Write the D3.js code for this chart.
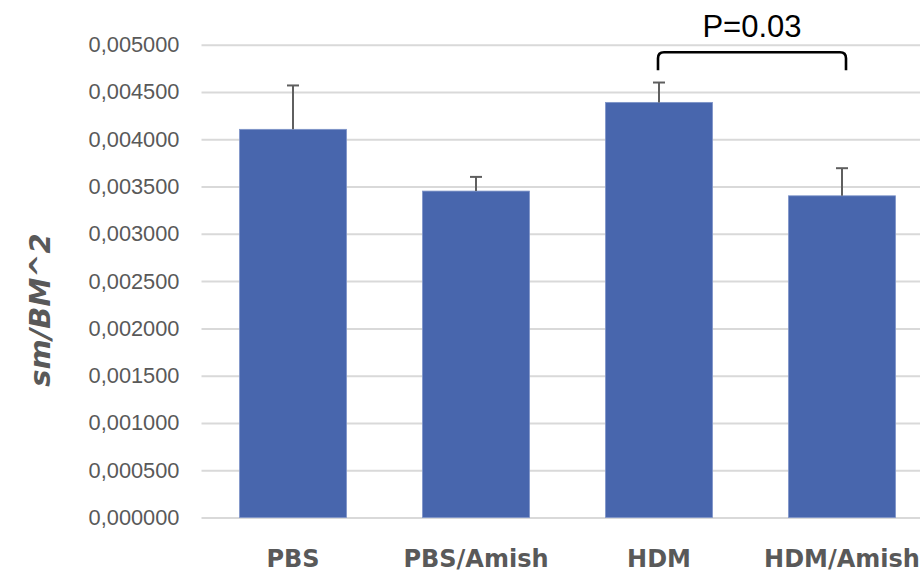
<!DOCTYPE html>
<html>
<head>
<meta charset="utf-8">
<script src="https://cdn.jsdelivr.net/npm/d3@7"></script>
<style>
  html, body { margin: 0; padding: 0; background: #fff; overflow: hidden; }
  svg { display: block; }
</style>
</head>
<body>
<svg id="chart" width="920" height="572"></svg>
<script>
// Groups, mean values and upper standard-error bars
const categories = ["PBS", "PBS/Amish", "HDM", "HDM/Amish"];
const means = [0.004105, 0.003452, 0.004390, 0.003402];
const errors = [0.000464, 0.000150, 0.000210, 0.000292];
const yTicks = [0, 0.0005, 0.001, 0.0015, 0.002, 0.0025, 0.003, 0.0035, 0.004, 0.0045, 0.005];
const yTickLabels = ["0,000000", "0,000500", "0,001000", "0,001500", "0,002000", "0,002500",
                     "0,003000", "0,003500", "0,004000", "0,004500", "0,005000"];
const axisTitle = "sm/BM^2";
// Significance bracket between HDM and HDM/Amish
const comparison = { from: "HDM", to: "HDM/Amish", label: "P=0.03", top: 0.00492, foot: 0.00473 };

const svg = d3.select("#chart");

const x = d3.scaleBand()
  .domain(categories)
  .range([201.5, 933.5])
  .paddingInner(0.415)
  .paddingOuter(0.2075);

const y = d3.scaleLinear()
  .domain([0, 0.005])
  .range([517.5, 44.7]);

// Horizontal gridlines
const yAxis = d3.axisLeft(y)
  .tickValues(yTicks)
  .tickSize(-(933.5 - 201.5))
  .tickPadding(22)
  .tickFormat((d, i) => yTickLabels[i]);

const gy = svg.append("g")
  .attr("transform", "translate(201.5,0)")
  .call(yAxis);
gy.select(".domain").remove();
gy.selectAll(".tick line")
  .attr("stroke", "#d9d9d9")
  .attr("stroke-width", 2);
gy.selectAll(".tick text")
  .attr("fill", "#595959")
  .attr("font-family", "'Liberation Sans', Arial, sans-serif")
  .attr("font-size", 21.8);

// Bars
svg.append("g")
  .selectAll("rect")
  .data(categories)
  .join("rect")
  .attr("x", d => x(d))
  .attr("width", x.bandwidth())
  .attr("y", (d, i) => y(means[i]))
  .attr("height", (d, i) => y(0) - y(means[i]))
  .attr("fill", "#4866ad")
  .attr("stroke", "#7f95c9")
  .attr("stroke-width", 0.8);

// Error bars (upper)
const eb = svg.append("g")
  .attr("stroke", "#5f5f5f")
  .attr("stroke-width", 2);
categories.forEach((c, i) => {
  const cx = x(c) + x.bandwidth() / 2;
  eb.append("line")
    .attr("x1", cx).attr("x2", cx)
    .attr("y1", y(means[i])).attr("y2", y(means[i] + errors[i]));
  eb.append("line")
    .attr("x1", cx - 6).attr("x2", cx + 6)
    .attr("y1", y(means[i] + errors[i])).attr("y2", y(means[i] + errors[i]));
});

// Category labels
svg.append("g")
  .selectAll("text")
  .data(categories)
  .join("text")
  .attr("x", d => x(d) + x.bandwidth() / 2)
  .attr("y", 567)
  .attr("text-anchor", "middle")
  .attr("fill", "#595959")
  .attr("font-family", "'DejaVu Sans', sans-serif")
  .attr("font-weight", "bold")
  .attr("font-size", 24)
  .text(d => d);

// Y-axis title
svg.append("text")
  .attr("transform", "translate(50,310) rotate(-90)")
  .attr("text-anchor", "middle")
  .attr("fill", "#595959")
  .attr("font-family", "'DejaVu Sans', sans-serif")
  .attr("font-weight", "bold")
  .attr("font-style", "italic")
  .attr("font-size", 29)
  .text(axisTitle);

// Significance bracket
const bx1 = x(comparison.from) + x.bandwidth() / 2 - 1;
const bx2 = x(comparison.to) + x.bandwidth() / 2 + 4;
const by = y(comparison.top);
const byFoot = y(comparison.foot);
const r = 6;
svg.append("path")
  .attr("d", `M${bx1},${byFoot} L${bx1},${by + r} Q${bx1},${by} ${bx1 + r},${by} ` +
             `L${bx2 - r},${by} Q${bx2},${by} ${bx2},${by + r} L${bx2},${byFoot}`)
  .attr("fill", "none")
  .attr("stroke", "#000")
  .attr("stroke-width", 2.6);

svg.append("text")
  .attr("x", (bx1 + bx2) / 2)
  .attr("y", by - 15)
  .attr("text-anchor", "middle")
  .attr("fill", "#000")
  .attr("font-family", "'Liberation Sans', Arial, sans-serif")
  .attr("font-size", 31)
  .text(comparison.label);
</script>
</body>
</html>
